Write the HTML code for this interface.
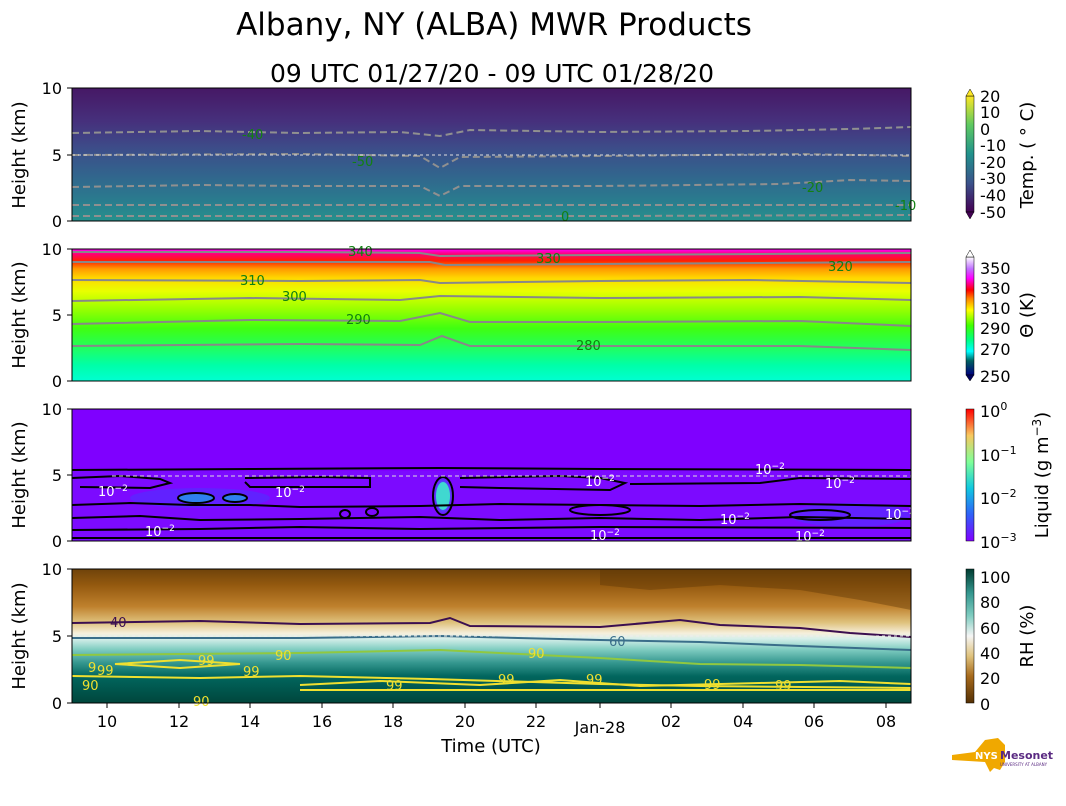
<!DOCTYPE html>
<html><head><meta charset="utf-8"><style>
body{margin:0;background:#fff;}
svg{display:block;font-family:"DejaVu Sans","Liberation Sans",sans-serif;}
</style></head><body>
<svg width="1066" height="806" viewBox="0 0 1066 806" xmlns="http://www.w3.org/2000/svg">
<defs>
<linearGradient id="gT" x1="0" y1="1" x2="0" y2="0">
<stop offset="0" stop-color="#26918c"/><stop offset="0.15" stop-color="#2a7c8e"/><stop offset="0.35" stop-color="#32648d"/><stop offset="0.55" stop-color="#3d4c89"/><stop offset="0.75" stop-color="#46307c"/><stop offset="1" stop-color="#461865"/>
</linearGradient>
<linearGradient id="gTh" x1="0" y1="1" x2="0" y2="0">
<stop offset="0" stop-color="#00ffd2"/><stop offset="0.12" stop-color="#00ffa8"/><stop offset="0.25" stop-color="#20ff60"/><stop offset="0.4" stop-color="#40ff10"/><stop offset="0.55" stop-color="#9cff00"/><stop offset="0.68" stop-color="#e8ff00"/><stop offset="0.78" stop-color="#ffd800"/><stop offset="0.85" stop-color="#ff9a00"/><stop offset="0.91" stop-color="#ff2000"/><stop offset="0.96" stop-color="#ff0070"/><stop offset="1" stop-color="#ff00ff"/>
</linearGradient>
<linearGradient id="gR" x1="0" y1="1" x2="0" y2="0">
<stop offset="0" stop-color="#00463c"/><stop offset="0.2" stop-color="#01665e"/><stop offset="0.3" stop-color="#35978f"/><stop offset="0.4" stop-color="#80cdc1"/><stop offset="0.48" stop-color="#d6efea"/><stop offset="0.52" stop-color="#f6efdc"/><stop offset="0.6" stop-color="#dfc27d"/><stop offset="0.72" stop-color="#bf812d"/><stop offset="0.88" stop-color="#94590f"/><stop offset="1" stop-color="#6f430a"/>
</linearGradient>
<linearGradient id="cT" x1="0" y1="1" x2="0" y2="0">
<stop offset="0" stop-color="#440154"/><stop offset="0.25" stop-color="#3b528b"/><stop offset="0.5" stop-color="#21918c"/><stop offset="0.75" stop-color="#5ec962"/><stop offset="1" stop-color="#fde725"/>
</linearGradient>
<linearGradient id="cTh" x1="0" y1="1" x2="0" y2="0">
<stop offset="0" stop-color="#000080"/><stop offset="0.12" stop-color="#006060"/><stop offset="0.2" stop-color="#00ffff"/><stop offset="0.3" stop-color="#00ff80"/><stop offset="0.42" stop-color="#40ff00"/><stop offset="0.55" stop-color="#ffff00"/><stop offset="0.65" stop-color="#ff8000"/><stop offset="0.72" stop-color="#ff0000"/><stop offset="0.82" stop-color="#ff00ff"/><stop offset="0.9" stop-color="#c070ff"/><stop offset="1" stop-color="#ffffff"/>
</linearGradient>
<linearGradient id="cL" x1="0" y1="1" x2="0" y2="0">
<stop offset="0" stop-color="#8000ff"/><stop offset="0.2" stop-color="#3060f8"/><stop offset="0.4" stop-color="#10c8e0"/><stop offset="0.6" stop-color="#80ff98"/><stop offset="0.8" stop-color="#f8c860"/><stop offset="1" stop-color="#ff0000"/>
</linearGradient>
<linearGradient id="cR" x1="0" y1="1" x2="0" y2="0">
<stop offset="0" stop-color="#543005"/><stop offset="0.2" stop-color="#a66a1c"/><stop offset="0.35" stop-color="#dfc27d"/><stop offset="0.5" stop-color="#f5f5f5"/><stop offset="0.65" stop-color="#80cdc1"/><stop offset="0.82" stop-color="#35978f"/><stop offset="1" stop-color="#003c30"/>
</linearGradient>
<radialGradient id="blob"><stop offset="0" stop-color="#60f0c0"/><stop offset="0.5" stop-color="#20a0f0"/><stop offset="1" stop-color="#4040ff" stop-opacity="0"/></radialGradient>
</defs>

<text x="494" y="35" font-size="31" text-anchor="middle">Albany, NY (ALBA) MWR Products</text>
<text x="492" y="82" font-size="25" text-anchor="middle">09 UTC 01/27/20 - 09 UTC 01/28/20</text>

<!-- Panel 1 -->
<rect x="72" y="88" width="839" height="133" fill="url(#gT)"/>
<g fill="none" stroke="#909090" stroke-width="2" stroke-dasharray="7,4">
<path d="M72,133 L200,131 L300,133 L400,132 L440,136 L470,130 L600,132 L750,131 L850,129 L911,127"/>
<path d="M72,155 L300,154 L420,156 L440,168 L460,157 L600,156 L800,154 L911,156"/>
<path d="M72,187 L200,185 L300,186 L420,186 L440,196 L460,186 L600,186 L780,184 L850,180 L911,181"/>
<path d="M72,205 L911,205"/>
<path d="M72,216 L300,216 L600,216 L911,215"/>
</g>
<line x1="72" y1="155" x2="911" y2="155" stroke="#ddd" stroke-dasharray="3,3" stroke-width="1"/>
<g fill="#128012" font-size="13">
<text x="242" y="139">-40</text><text x="352" y="166">-50</text><text x="802" y="192">-20</text><text x="895" y="210">-10</text><text x="561" y="221">0</text>
</g>
<rect x="72" y="88" width="839" height="133" fill="none" stroke="#000"/>

<!-- Panel 2 -->
<rect x="72" y="249" width="839" height="132" fill="url(#gTh)"/>
<g fill="none" stroke="#888" stroke-width="2">
<path d="M72,252 L300,252 L420,253 L440,256 L911,253"/>
<path d="M72,262 L430,262 L445,265 L911,262"/>
<path d="M72,280 L300,281 L420,280 L440,283 L600,281 L750,280 L911,283"/>
<path d="M72,301 L250,298 L400,300 L440,296 L600,298 L800,297 L911,300"/>
<path d="M72,324 L250,320 L400,321 L440,313 L470,322 L600,322 L800,321 L911,326"/>
<path d="M72,346 L300,344 L420,345 L442,336 L470,346 L620,346 L800,346 L911,350"/>
</g>
<g fill="#108010" font-size="13">
<text x="348" y="256">340</text><text x="536" y="263">330</text><text x="240" y="285">310</text><text x="828" y="271">320</text><text x="282" y="301">300</text><text x="346" y="324">290</text><text x="576" y="350">280</text>
</g>
<rect x="72" y="249" width="839" height="132" fill="none" stroke="#000"/>

<!-- Panel 3 -->
<rect x="72" y="409" width="839" height="132" fill="#7f00ff"/>
<rect x="72" y="471" width="839" height="70" fill="#7a10ff" opacity="0.6"/>
<ellipse cx="200" cy="498" rx="70" ry="10" fill="#5030ff" opacity="0.6"/>
<ellipse cx="850" cy="515" rx="60" ry="12" fill="#5030ff" opacity="0.6"/>
<ellipse cx="196" cy="498" rx="18" ry="5" fill="#2f80f0"/>
<ellipse cx="235" cy="498" rx="12" ry="4" fill="#2f80f0"/>
<ellipse cx="443" cy="496" rx="10" ry="20" fill="url(#blob)"/>
<ellipse cx="443" cy="496" rx="7" ry="14" fill="#40d8d0"/>
<g fill="none" stroke="#000" stroke-width="2">
<path d="M72,470 L250,469 L440,468 L600,469 L911,470"/>
<path d="M72,478 L120,476 L160,479 L170,483 L150,488 L80,487"/>
<path d="M245,478 L320,477 L370,478 L370,487 L250,487 L245,482"/>
<path d="M460,478 L560,476 L600,478 L625,483 L610,490 L500,488 L460,487"/>
<path d="M630,484 L760,483 L800,478 L911,479"/>
<path d="M72,505 L130,503 L190,505 L250,505 L300,507 L420,506 L500,504 L600,505 L700,506 L800,504 L911,506"/>
<path d="M72,518 L140,516 L200,520 L300,519 L420,517 L500,520 L600,518 L700,520 L800,517 L911,519"/>
<path d="M72,530 L200,529 L300,527 L420,529 L600,527 L911,528"/>
<path d="M72,538 L911,538"/>
<ellipse cx="443" cy="496" rx="10" ry="19"/>
<ellipse cx="196" cy="498" rx="18" ry="5"/><ellipse cx="235" cy="498" rx="12" ry="4"/>
<ellipse cx="345" cy="514" rx="5" ry="4"/><ellipse cx="372" cy="512" rx="6" ry="4"/>
<ellipse cx="600" cy="510" rx="30" ry="5"/><ellipse cx="820" cy="515" rx="30" ry="5"/>
</g>
<line x1="112" y1="476" x2="911" y2="476" stroke="#ddd" stroke-dasharray="4,3" stroke-width="1"/>
<g fill="#fff" font-size="13">
<text x="98" y="496">10<tspan dy="-5" font-size="9">−2</tspan></text>
<text x="275" y="497">10<tspan dy="-5" font-size="9">−2</tspan></text>
<text x="145" y="536">10<tspan dy="-5" font-size="9">−2</tspan></text>
<text x="585" y="486">10<tspan dy="-5" font-size="9">−2</tspan></text>
<text x="755" y="474">10<tspan dy="-5" font-size="9">−2</tspan></text>
<text x="825" y="488">10<tspan dy="-5" font-size="9">−2</tspan></text>
<text x="720" y="524">10<tspan dy="-5" font-size="9">−2</tspan></text>
<text x="885" y="519">10<tspan dy="-5" font-size="9">−2</tspan></text>
<text x="590" y="540">10<tspan dy="-5" font-size="9">−2</tspan></text>
<text x="795" y="541">10<tspan dy="-5" font-size="9">−2</tspan></text>
</g>
<rect x="72" y="409" width="839" height="132" fill="none" stroke="#000"/>

<!-- Panel 4 -->
<rect x="72" y="569" width="839" height="134" fill="url(#gR)"/>
<path d="M600,569 L911,569 L911,610 L860,600 L800,590 L720,585 L650,590 L600,585 Z" fill="#5a3505" opacity="0.4"/>
<g fill="none" stroke-width="2">
<path d="M72,623 L200,621 L300,624 L430,623 L450,618 L470,626 L600,627 L680,620 L720,625 L800,628 L850,633 L911,637" stroke="#3b0f50"/>
<path d="M72,638 L300,638 L440,636 L600,640 L700,642 L800,646 L911,650" stroke="#3a6e8a"/>
<path d="M72,655 L300,653 L440,650 L600,658 L700,664 L800,665 L911,668" stroke="#90c840"/>
<path d="M115,664 L180,660 L240,664 L180,668 Z M72,676 L200,678 L300,676 L430,679 L600,684 L700,686 L911,688" stroke="#f0e030"/>
<path d="M300,685 L380,681 L480,685 L560,680 L640,686 L760,683 L840,681 L911,684 M300,690 L911,690" stroke="#f0e030"/>
</g>
<line x1="72" y1="636" x2="911" y2="636" stroke="#eee" stroke-dasharray="3,3" stroke-width="1"/>
<g font-size="13">
<text x="110" y="627" fill="#3b0f50">40</text><text x="609" y="646" fill="#3a6e8a">60</text>
<g fill="#f0e030"><text x="198" y="665">99</text><text x="275" y="660">90</text><text x="243" y="676">99</text><text x="88" y="672">9</text><text x="97" y="675">99</text><text x="82" y="690">90</text><text x="386" y="690">99</text><text x="498" y="684">99</text><text x="586" y="684">99</text><text x="704" y="689">99</text><text x="775" y="690">99</text><text x="528" y="658">90</text><text x="193" y="706">90</text></g>
</g>
<rect x="72" y="569" width="839" height="134" fill="none" stroke="#000"/>

<!-- Y axes -->
<g font-size="16" text-anchor="end">
<text x="62" y="94">10</text><text x="62" y="161">5</text><text x="62" y="227">0</text>
<text x="62" y="255">10</text><text x="62" y="321">5</text><text x="62" y="387">0</text>
<text x="62" y="415">10</text><text x="62" y="481">5</text><text x="62" y="547">0</text>
<text x="62" y="575">10</text><text x="62" y="642">5</text><text x="62" y="709">0</text>
</g>
<g stroke="#000">
<path d="M67,88h5M67,155h5M67,221h5M67,249h5M67,315h5M67,381h5M67,409h5M67,475h5M67,541h5M67,569h5M67,636h5M67,703h5"/>
<path d="M107,703v5M179,703v5M250,703v5M322,703v5M393,703v5M465,703v5M536,703v5M600,703v5M671,703v5M743,703v5M814,703v5M886,703v5"/>
</g>
<g font-size="18" text-anchor="middle">
<text transform="translate(25,155) rotate(-90)">Height (km)</text>
<text transform="translate(25,315) rotate(-90)">Height (km)</text>
<text transform="translate(25,475) rotate(-90)">Height (km)</text>
<text transform="translate(25,636) rotate(-90)">Height (km)</text>
</g>
<g font-size="16" text-anchor="middle">
<text x="107" y="727">10</text><text x="179" y="727">12</text><text x="250" y="727">14</text><text x="322" y="727">16</text><text x="393" y="727">18</text><text x="465" y="727">20</text><text x="536" y="727">22</text><text x="600" y="733">Jan-28</text><text x="671" y="727">02</text><text x="743" y="727">04</text><text x="814" y="727">06</text><text x="886" y="727">08</text>
</g>
<text x="491" y="752" font-size="18" text-anchor="middle">Time (UTC)</text>

<!-- Colorbars -->
<rect x="966" y="96" width="8" height="116" fill="url(#cT)" stroke="#000" stroke-width="0.5"/>
<path d="M966,96 L970,89 L974,96Z" fill="#fde725" stroke="#000" stroke-width="0.5"/>
<path d="M966,212 L970,219 L974,212Z" fill="#440154" stroke="#000" stroke-width="0.5"/>
<g font-size="16"><text x="980" y="102">20</text><text x="980" y="118">10</text><text x="980" y="135">0</text><text x="980" y="151">-10</text><text x="980" y="168">-20</text><text x="980" y="184">-30</text><text x="980" y="201">-40</text><text x="980" y="218">-50</text></g>
<text transform="translate(1033,155) rotate(-90)" font-size="18" text-anchor="middle">Temp. ( ° C)</text>

<rect x="966" y="257" width="8" height="118" fill="url(#cTh)" stroke="#000" stroke-width="0.5"/>
<path d="M966,257 L970,250 L974,257Z" fill="#fff" stroke="#000" stroke-width="0.5"/>
<path d="M966,375 L970,381 L974,375Z" fill="#000060" stroke="#000" stroke-width="0.5"/>
<g font-size="16"><text x="980" y="274">350</text><text x="980" y="294">330</text><text x="980" y="314">310</text><text x="980" y="334">290</text><text x="980" y="355">270</text><text x="980" y="382">250</text></g>
<text transform="translate(1033,315) rotate(-90)" font-size="18" text-anchor="middle">Θ (K)</text>

<rect x="966" y="409" width="8" height="132" fill="url(#cL)" stroke="#000" stroke-width="0.5"/>
<g font-size="16"><text x="980" y="417">10<tspan dy="-7" font-size="11">0</tspan></text><text x="980" y="461">10<tspan dy="-7" font-size="11">−1</tspan></text><text x="980" y="504">10<tspan dy="-7" font-size="11">−2</tspan></text><text x="980" y="548">10<tspan dy="-7" font-size="11">−3</tspan></text></g>
<text transform="translate(1048,475) rotate(-90)" font-size="18" text-anchor="middle">Liquid (g m<tspan dy="-7" font-size="12">−3</tspan><tspan dy="7">)</tspan></text>

<rect x="966" y="569" width="8" height="134" fill="url(#cR)" stroke="#000" stroke-width="0.5"/>
<g font-size="16"><text x="980" y="583">100</text><text x="980" y="608">80</text><text x="980" y="634">60</text><text x="980" y="659">40</text><text x="980" y="684">20</text><text x="980" y="710">0</text></g>
<text transform="translate(1033,636) rotate(-90)" font-size="18" text-anchor="middle">RH (%)</text>

<!-- Logo -->
<path d="M952,755 L975,752 L985,740 L998,738 L1005,745 L1005,762 L1000,770 L994,768 L990,772 L985,762 L952,760Z" fill="#f0a800"/>
<text x="975" y="759" font-size="10" font-weight="bold" fill="#fff">NYS</text>
<text x="1000" y="759" font-size="11" font-weight="bold" fill="#5a2a82">Mesonet</text>
<text x="1000" y="766" font-size="4" fill="#5a2a82">UNIVERSITY AT ALBANY</text>
</svg>
</body></html>
